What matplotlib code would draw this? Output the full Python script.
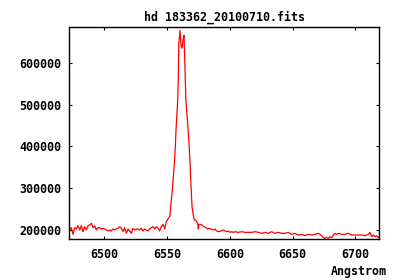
import matplotlib
matplotlib.use("Agg")
import matplotlib.pyplot as plt

# Spectrum (wavelength in Angstrom, flux)
wavelength = [
    6472.4, 6473.7, 6475.0, 6476.4, 6477.7, 6479.0, 6480.4, 6481.7, 6483.0, 6484.3,
    6485.7, 6487.0, 6488.3, 6489.7, 6491.0, 6492.3, 6493.6, 6495.0, 6496.3, 6497.6,
    6498.9, 6500.3, 6501.6, 6502.9, 6504.3, 6505.6, 6506.9, 6508.2, 6509.6, 6510.9,
    6512.2, 6513.6, 6514.9, 6516.2, 6517.5, 6518.9, 6520.2, 6521.5, 6522.8, 6524.2,
    6525.5, 6526.8, 6528.2, 6529.5, 6530.8, 6532.1, 6533.5, 6534.8, 6536.1, 6537.5,
    6538.8, 6540.1, 6541.4, 6542.8, 6544.1, 6545.4, 6546.8, 6548.1, 6549.4, 6550.7,
    6552.3, 6553.1, 6554.2, 6555.0, 6555.8, 6556.6, 6557.1, 6557.7, 6558.5, 6558.9,
    6559.3, 6560.3, 6561.1, 6561.9, 6562.7, 6563.5, 6564.5, 6565.0, 6566.4, 6567.5,
    6568.3, 6569.1, 6569.9, 6570.9, 6571.7, 6572.8, 6574.4, 6574.9, 6575.4, 6577.0,
    6578.1, 6579.7, 6580.8, 6582.4, 6583.4, 6585.0, 6586.9, 6588.2, 6589.5, 6590.9,
    6593.0, 6594.8, 6596.2, 6597.5, 6598.8, 6600.2, 6601.5, 6602.8, 6604.1, 6606.8,
    6609.4, 6612.1, 6614.8, 6617.4, 6620.1, 6622.7, 6625.4, 6628.0, 6630.7, 6633.3,
    6636.0, 6638.7, 6641.3, 6644.0, 6646.6, 6649.3, 6651.9, 6654.6, 6657.3, 6659.9,
    6662.6, 6665.2, 6667.9, 6670.5, 6673.2, 6674.5, 6675.8, 6677.2, 6678.5, 6679.8,
    6681.2, 6682.5, 6683.8, 6685.1, 6686.5, 6689.1, 6691.8, 6694.4, 6697.1, 6699.7,
    6702.4, 6705.0, 6707.7, 6710.4, 6711.7, 6713.0, 6714.4, 6715.7, 6717.0, 6718.3,
    6719.1,
]
flux = [
    200000, 205600, 189650, 205600, 202400, 210300, 200000, 210300, 196000, 208000,
    200000, 210300, 212000, 215900, 205600, 210300, 200000, 205600, 205600, 202400,
    204000, 202400, 200000, 197600, 200000, 197600, 202400, 200000, 202400, 204000,
    208000, 204000, 196000, 205600, 192000, 202400, 197600, 192000, 204000, 200000,
    202400, 202400, 200000, 204000, 197600, 202400, 200000, 197600, 202400, 205600,
    208000, 202400, 208000, 204000, 197600, 208000, 213500, 202400, 219900, 226300,
    233400, 263700, 295500, 327200, 359200, 398800, 438700, 470400, 510300, 557000,
    642000, 677000, 641600, 634600, 653500, 665500, 557000, 510300, 454700, 407000,
    359200, 303400, 255700, 235800, 223900, 223900, 215900, 202400, 213500, 213500,
    210300, 208000, 205600, 202400, 204000, 202400, 200000, 202400, 197600, 196000,
    197600, 200000, 197600, 196000, 197600, 194400, 196000, 194400, 196000, 194400,
    196000, 194400, 194400, 194400, 196000, 194400, 192000, 194400, 192000, 196000,
    192000, 194400, 192000, 192000, 194400, 189650, 192000, 188100, 189650, 186500,
    189650, 188100, 189650, 192000, 186500, 181700, 180100, 182500, 180100, 184100,
    181700, 188100, 192000, 189650, 192000, 189650, 189650, 192000, 188100, 188100,
    188100, 188100, 186500, 189650, 194400, 184100, 188100, 184100, 186500, 181700,
    184100,
]

x_ticks = [6500, 6550, 6600, 6650, 6700]
y_ticks = [200000, 300000, 400000, 500000, 600000]
title = "hd 183362_20100710.fits"
x_label = "Angstrom"

font = {"family": "DejaVu Sans Mono", "weight": "bold", "size": 8.4}

fig = plt.figure(figsize=(4.0, 2.8), dpi=100)
ax = fig.add_axes([69.3 / 400, 1 - 239.3 / 280, (379.3 - 69.3) / 400, (239.3 - 27.3) / 280])

ax.plot(wavelength, flux, color="#ff0000", linewidth=0.9)

ax.set_xlim(6472.1, 6719.1)
ax.set_ylim(177800, 684600)
ax.set_xticks(x_ticks)
ax.set_yticks(y_ticks)
ax.set_xticklabels([str(t) for t in x_ticks], fontdict=font)
ax.set_yticklabels([str(t) for t in y_ticks], fontdict=font)
ax.tick_params(direction="in", length=2.5, width=0.8, top=True, right=True,
               colors="black")
ax.tick_params(axis="x", pad=6)
ax.tick_params(axis="y", pad=5.5)
for s in ax.spines.values():
    s.set_linewidth(1.0)
    s.set_color("black")

ax.set_title(title, fontdict=font, pad=5)
fig.text(387 / 400, 1 - 271 / 280, x_label, ha="right", va="center", **font)

fig.savefig("out.png", dpi=100)
